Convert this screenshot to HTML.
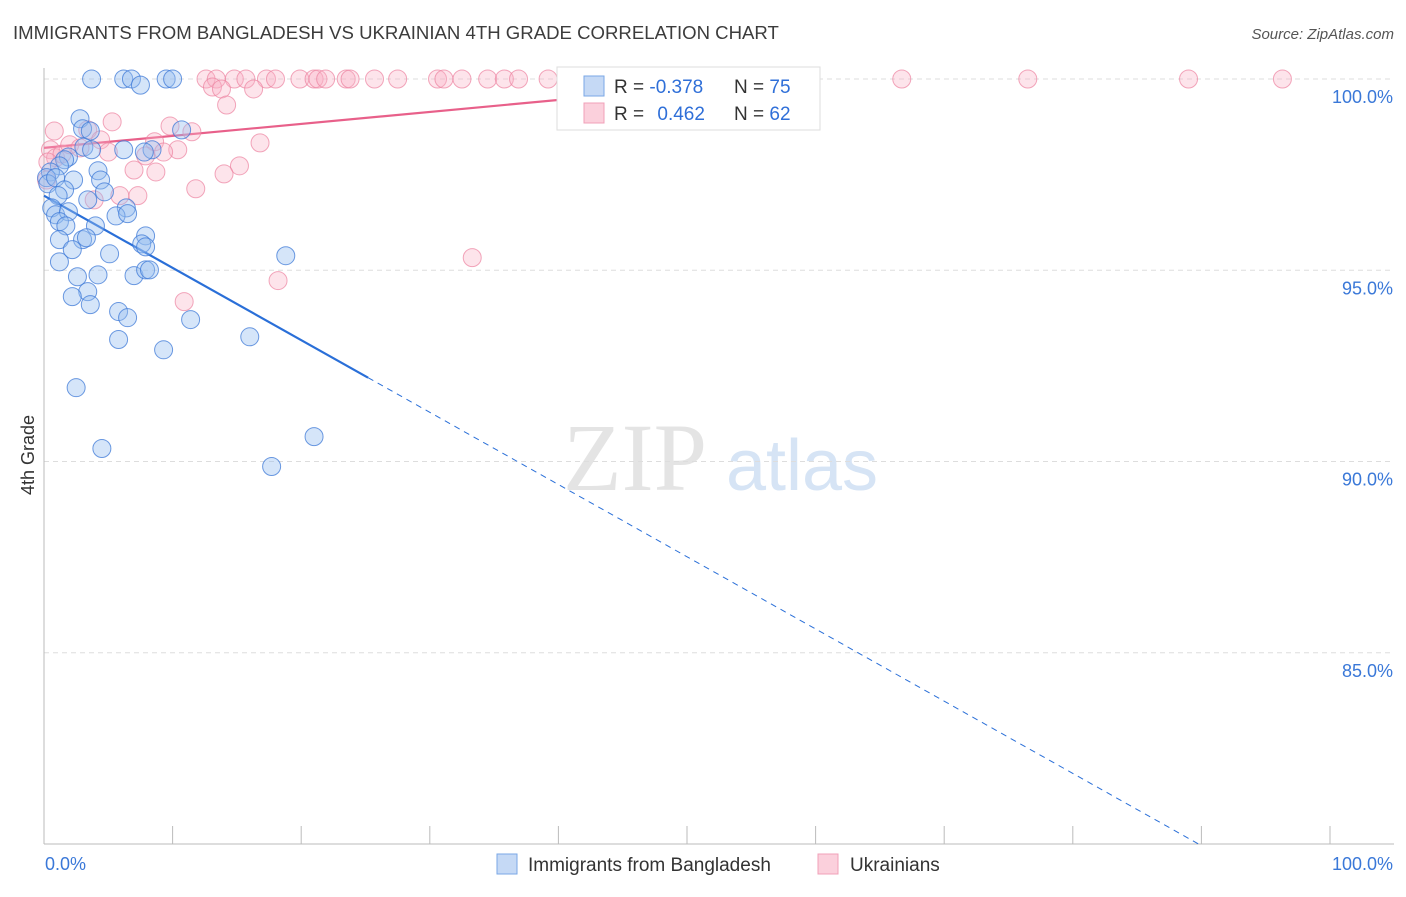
<!DOCTYPE html>
<html><head><meta charset="utf-8"><style>
body{margin:0;background:#fff;font-family:"Liberation Sans",sans-serif}
</style></head><body>
<svg id="chart" width="1406" height="892" xmlns="http://www.w3.org/2000/svg" font-family="Liberation Sans, sans-serif">
<text x="13" y="39" font-size="18.6" fill="#3c3c3c">IMMIGRANTS FROM BANGLADESH VS UKRAINIAN 4TH GRADE CORRELATION CHART</text>
<text x="1394" y="39" font-size="15" fill="#555" font-style="italic" text-anchor="end">Source: ZipAtlas.com</text>
<g>
<text x="635" y="490" font-size="96" fill="#e4e4e4" font-family="Liberation Serif, serif" text-anchor="middle">ZIP</text>
<text x="802" y="490" font-size="72" fill="#d6e4f5" text-anchor="middle">atlas</text>
</g>
<text transform="translate(34,455) rotate(-90)" font-size="18" fill="#333" text-anchor="middle">4th Grade</text>
<g id="grid"></g><g id="axes"></g><g id="lines"></g><g id="pts"></g>
<g>
<rect x="557" y="67" width="263" height="63" fill="#fff" stroke="#ddd"/>
<rect x="584" y="76" width="20" height="20" fill="#c5d9f5" stroke="#7aa7e6"/>
<rect x="584" y="103" width="20" height="20" fill="#fbd0dc" stroke="#f0a0b8"/>
<text x="614" y="93" font-size="19" fill="#333">R = <tspan fill="#2f6fd8">-0.378</tspan></text>
<text x="734" y="93" font-size="19" fill="#333">N = <tspan fill="#2f6fd8">75</tspan></text>
<text x="614" y="120" font-size="19" fill="#333">R = <tspan fill="#2f6fd8" dx="8">0.462</tspan></text>
<text x="734" y="120" font-size="19" fill="#333">N = <tspan fill="#2f6fd8">62</tspan></text>
</g>
<g>
<rect x="497" y="854" width="20" height="20" fill="#c5d9f5" stroke="#7aa7e6"/>
<text x="528" y="871" font-size="19" fill="#333">Immigrants from Bangladesh</text>
<rect x="818" y="854" width="20" height="20" fill="#fbd0dc" stroke="#f0a0b8"/>
<text x="850" y="871" font-size="19" fill="#333">Ukrainians</text>
</g>
</svg>
<script>
const yTicks=[100,95,90,85];
const yTickLabels=["100.0%","95.0%","90.0%","85.0%"];
const xTicks=[0,10,20,30,40,50,60,70,80,90,100];
const blueX=[3.7,6.2,6.8,7.5,9.5,10.0,2.8,3.0,3.6,3.1,3.7,1.9,1.6,1.2,0.5,0.2,0.3,0.9,2.3,4.2,4.4,4.7,1.6,1.1,3.4,0.6,0.9,1.9,1.2,4.0,1.7,1.2,3.0,3.3,6.4,5.6,6.5,7.9,7.6,7.9,5.1,1.2,2.2,2.6,4.2,3.4,2.2,3.6,7.0,7.9,8.2,5.8,6.5,11.4,5.8,9.3,16.0,18.8,2.5,4.5,17.7,21.0,10.7,8.4,6.2,7.8];
const blueY=[100,100,100,99.84,100,100,98.96,98.7,98.64,98.22,98.15,97.96,97.89,97.73,97.57,97.42,97.26,97.42,97.36,97.6,97.36,97.05,97.1,96.95,96.84,96.63,96.45,96.53,96.27,96.16,96.16,95.8,95.8,95.85,96.63,96.42,96.48,95.9,95.69,95.61,95.43,95.22,95.54,94.83,94.88,94.44,94.31,94.1,94.86,95.01,95.01,93.92,93.76,93.71,93.19,92.92,93.26,95.38,91.93,90.34,89.87,90.65,98.67,98.15,98.15,98.09];
const pinkX=[12.6,13.4,14.8,15.7,17.3,18.0,19.9,21.0,21.3,21.9,23.5,23.8,25.7,27.5,30.6,31.1,32.5,34.5,35.8,36.9,39.2,47.4,66.7,76.5,89.0,96.3,13.1,13.8,16.3,14.2,0.8,3.4,5.3,9.8,11.5,4.4,8.6,10.4,16.8,0.5,0.9,1.4,5.0,7.9,9.3,7.0,8.7,15.2,14.0,0.2,3.9,5.9,7.3,11.8,10.9,18.2,33.3,0.3,2.0,2.8];
const pinkY=[100,100,100,100,100,100,100,100,100,100,100,100,100,100,100,100,100,100,100,100,100,100,100,100,100,100,99.79,99.74,99.74,99.32,98.64,98.67,98.88,98.77,98.62,98.41,98.36,98.15,98.33,98.15,97.94,98.04,98.09,97.99,98.09,97.62,97.57,97.73,97.52,97.36,96.84,96.95,96.95,97.13,94.18,94.73,95.33,97.83,98.28,98.2];
const blueTrend=[96.95,78.07];
const pinkTrend=[98.2,101.33];
const NS="http://www.w3.org/2000/svg";
const X0=44,X1=1330,Y0=79,YB=844;
const sx=v=>X0+(X1-X0)*v/100;
const sy=v=>Y0+(100-v)*(YB-Y0)/20;
function mk(tag,attrs,parent){const e=document.createElementNS(NS,tag);for(const k in attrs)e.setAttribute(k,attrs[k]);document.getElementById(parent).appendChild(e);return e;}
yTicks.forEach((t,i)=>{
 const g=mk('line',{x1:X0,x2:1394,y1:sy(t),y2:sy(t),stroke:'#ddd','stroke-dasharray':'5,4'},'grid');
 
 
 const l=mk('text',{x:1393,y:sy(t)+24,'font-size':18,fill:'#3a78d8','text-anchor':'end'},'axes');
 l.textContent=yTickLabels[i];
 
 
});
const ya=mk('line',{x1:X0,x2:X0,y1:68,y2:YB,stroke:'#bbb'},'axes');


const xa=mk('line',{x1:X0,x2:1394,y1:YB,y2:YB,stroke:'#bbb'},'axes');


xTicks.forEach(t=>{
 const k=mk('line',{x1:sx(t),x2:sx(t),y1:826,y2:YB,stroke:'#bbb'},'axes');
 
 
});
const xl0=mk('text',{x:45,y:870,'font-size':18,fill:'#3a78d8'},'axes');xl0.textContent='0.0%';


const xl1=mk('text',{x:1393,y:870,'font-size':18,fill:'#3a78d8','text-anchor':'end'},'axes');xl1.textContent='100.0%';


pinkX.forEach((x,i)=>{
 const c=mk('circle',{cx:sx(x),cy:sy(pinkY[i]),r:9,fill:'rgba(248,178,198,0.35)',stroke:'rgba(236,130,160,0.7)','stroke-width':1},'pts');
 
 
});
blueX.forEach((x,i)=>{
 const c=mk('circle',{cx:sx(x),cy:sy(blueY[i]),r:9,fill:'rgba(150,190,240,0.4)',stroke:'rgba(60,120,215,0.75)','stroke-width':1},'pts');
 
 
});
const bAt=x=>blueTrend[0]+(blueTrend[1]-blueTrend[0])*x/100;
const b1=mk('line',{x1:sx(0),y1:sy(bAt(0)),x2:sx(25.2),y2:sy(bAt(25.2)),stroke:'#2a6fd8','stroke-width':2.2},'lines');


const xEnd=(80-blueTrend[0])/(blueTrend[1]-blueTrend[0])*100;
const b2=mk('line',{x1:sx(25.2),y1:sy(bAt(25.2)),x2:sx(xEnd),y2:sy(80),stroke:'#2a6fd8','stroke-width':1,'stroke-dasharray':'6,5'},'lines');


const pAt=x=>pinkTrend[0]+(pinkTrend[1]-pinkTrend[0])*x/100;
const pEnd=(100-pinkTrend[0])/(pinkTrend[1]-pinkTrend[0])*100;
const p1=mk('line',{x1:sx(0),y1:sy(pAt(0)),x2:sx(pEnd),y2:sy(100),stroke:'#e8608a','stroke-width':2.2},'lines');


</script>
</body></html>
